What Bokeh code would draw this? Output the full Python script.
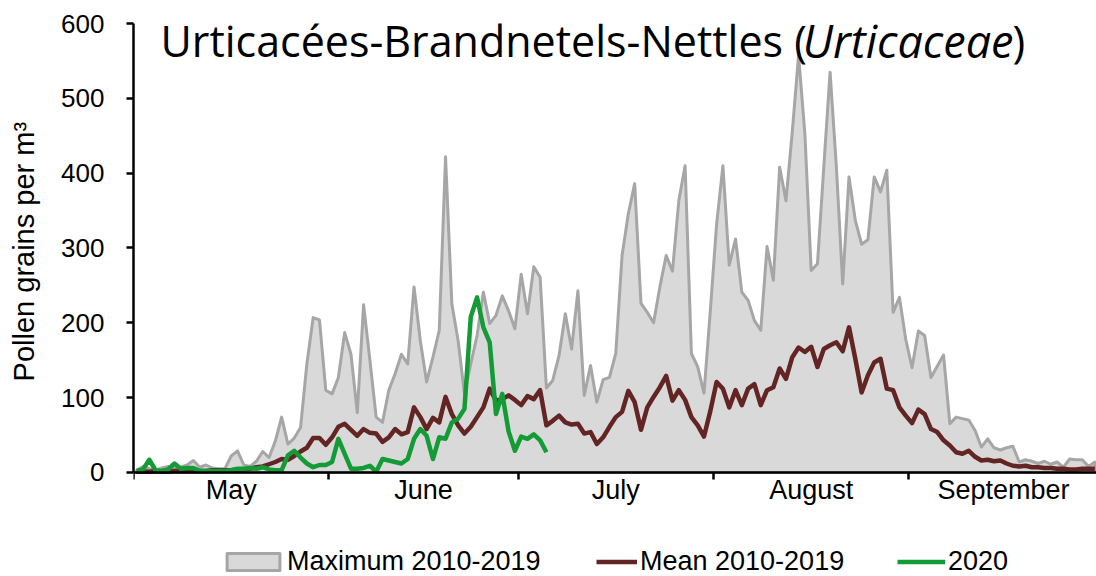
from bokeh.plotting import figure
from bokeh.models import (Range1d, FixedTicker, CustomJSTickFormatter, Label,
                          Legend, LegendItem)
from bokeh.embed import file_html
from bokeh.resources import INLINE

# ---- data -------------------------------------------------------------
months = ["May", "June", "July", "August", "September"]
month_starts = [0, 31, 61, 92, 123, 153]
y_ticks = [0, 100, 200, 300, 400, 500, 600]

max_2010_2019 = [
    # May
    3, 8, 5, 3, 6, 8, 5, 7, 10, 16, 7, 10, 6, 5, 5, 22, 29, 10, 8, 15,
    28, 20, 42, 74, 38, 46, 60, 145, 207, 204, 110,
    # June
    105, 127, 187, 158, 80, 224, 150, 74, 67, 110, 132, 158, 145, 248, 176,
    121, 154, 190, 422, 225, 176, 105, 145, 183, 241, 199, 210, 236, 216, 192,
    # July
    265, 212, 275, 261, 113, 123, 156, 212, 165, 243, 103, 143, 94, 124, 127,
    159, 290, 346, 386, 226, 214, 200, 248, 290, 269, 363, 410, 159, 141, 106, 216,
    # August
    332, 410, 277, 312, 241, 230, 203, 190, 302, 257, 408, 363, 455, 557, 453,
    270, 279, 408, 535, 408, 252, 395, 337, 305, 311, 395, 375, 404, 214, 234, 178,
    # September
    140, 189, 183, 127, 142, 157, 65, 74, 72, 70, 56, 34, 45, 33, 30,
    33, 35, 14, 17, 15, 12, 15, 11, 14, 7, 18, 17, 17, 8, 14,
]

mean_2010_2019 = [
    # May
    1, 1, 1, 2, 1, 1, 2, 2, 2, 2, 2, 2, 3, 3, 3, 3, 4, 4, 5, 7,
    8, 11, 14, 18, 17, 22, 28, 33, 46, 46, 37,
    # June
    47, 61, 65, 57, 49, 58, 53, 52, 41, 47, 58, 51, 54, 87, 74,
    58, 73, 67, 101, 78, 63, 52, 61, 74, 87, 112, 96, 98, 103, 97,
    # July
    90, 102, 98, 110, 63, 69, 76, 67, 64, 65, 52, 54, 38, 47, 61,
    74, 81, 109, 94, 57, 87, 101, 114, 129, 96, 110, 97, 74, 63, 48, 82,
    # August
    121, 112, 87, 110, 90, 112, 118, 90, 110, 114, 139, 125, 154, 167, 161,
    168, 141, 165, 170, 174, 162, 194, 152, 107, 130, 147, 152, 112, 110, 87, 76,
    # September
    66, 84, 78, 58, 54, 43, 36, 27, 25, 29, 21, 16, 17, 15, 16,
    12, 9, 8, 9, 7, 7, 6, 6, 5, 5, 4, 4, 5, 5, 5,
]

y2020 = [
    # May
    2, 4, 17, 3, 2, 4, 12, 5, 6, 6, 2, 2, 2, 2, 2, 3, 5, 5, 6, 5,
    7, 4, 3, 3, 23, 29, 20, 12, 7, 10, 10,
    # June
    14, 45, 25, 5, 5, 6, 9, 1, 18, 16, 14, 12, 18, 45, 58,
    49, 18, 47, 45, 67, 72, 85, 208, 234, 194, 174, 78, 105, 55, 29,
    # July
    48, 45, 51, 43, 27,
]

# day i is drawn in the middle of its day slot
days = [i + 0.5 for i in range(len(max_2010_2019))]
days_2020 = days[:len(y2020)]

# ---- styles -----------------------------------------------------------
ARIAL = "Liberation Sans"
GRAY_FILL = "#d9d9d9"
GRAY_LINE = "#a6a6a6"
BROWN = "#632523"
GREEN = "#139b36"

W, H = 1096, 576
LEFT, TOP = 133, 23
PX_PER_DAY = 6.304
PX_PER_UNIT = 0.7483
FRAME_W = W - LEFT
FRAME_H = H - TOP
Y_MIN = 600 - FRAME_H / PX_PER_UNIT

p = figure(width=W, height=H,
           x_range=Range1d(0, FRAME_W / PX_PER_DAY), y_range=Range1d(Y_MIN, 600),
           output_backend="svg", toolbar_location=None,
           min_border_left=LEFT, min_border_right=0,
           min_border_top=TOP, min_border_bottom=0)
p.outline_line_color = None
p.xgrid.visible = False
p.ygrid.visible = False
p.background_fill_color = "white"

# maximum as a filled area down to the baseline
area_x = [days[0]] + days + [days[-1]]
area_y = [0] + max_2010_2019 + [0]
r_max = p.patch(area_x, area_y, fill_color=GRAY_FILL, line_color=GRAY_LINE,
                line_width=3, line_join="round")
r_mean = p.line(days, mean_2010_2019, line_color=BROWN, line_width=4.5,
                line_join="round")
r_2020 = p.line(days_2020, y2020, line_color=GREEN, line_width=4.5,
                line_join="round")

# ---- axes -------------------------------------------------------------
centers = [(a + b) / 2 for a, b in zip(month_starts[:-1], month_starts[1:])]
xa = p.xaxis[0]
xa.fixed_location = 0
xa.ticker = FixedTicker(ticks=centers, minor_ticks=month_starts)
xa.formatter = CustomJSTickFormatter(args=dict(names=months, centers=centers),
                                     code="const i = centers.indexOf(tick); return i >= 0 ? names[i] : '';")
xa.axis_line_color = "black"
xa.axis_line_width = 2.5
xa.major_tick_out = 0
xa.major_tick_in = 0
xa.minor_tick_out = 7
xa.minor_tick_in = 0
xa.minor_tick_line_color = "black"
xa.minor_tick_line_width = 2.5
xa.major_label_standoff = -4
xa.major_label_text_font = ARIAL
xa.major_label_text_font_size = "27px"
xa.major_label_text_color = "black"

ya = p.yaxis[0]
ya.bounds = (0, 600)
ya.ticker = FixedTicker(ticks=y_ticks)
ya.axis_line_color = "black"
ya.axis_line_width = 2.5
ya.major_tick_out = 7
ya.major_tick_in = 0
ya.major_tick_line_color = "black"
ya.major_tick_line_width = 2.5
ya.minor_tick_out = 0
ya.minor_tick_in = 0
ya.major_label_standoff = 22
ya.major_label_text_font = ARIAL
ya.major_label_text_font_size = "26px"
ya.major_label_text_color = "black"
# the label is centred on the whole frame; leading no-break spaces lift it
# so that it sits centred on the 0-600 part of the axis
ya.axis_label = "\u00a0" * 12 + "Pollen grains per m³"
ya.axis_label_text_font = ARIAL
ya.axis_label_text_font_size = "29px"
ya.axis_label_text_font_style = "normal"
ya.axis_label_text_color = "black"
ya.axis_label_standoff = 18

# ---- title (mixed upright / italic) -------------------------------------
TITLE_FONT = "Open Sans"
for txt, xs, style, size in [("Urticacées-Brandnetels-Nettles (", 27, "normal", "43px"),
                             ("Urticaceae", 669, "italic", "45px"),
                             (")", 879, "normal", "43px")]:
    p.add_layout(Label(x=xs, y=536, x_units="screen", y_units="screen",
                       text=txt, text_font=TITLE_FONT, text_font_size=size,
                       text_font_style=style, text_color="black",
                       text_align="left", text_baseline="alphabetic"))

# ---- legends ------------------------------------------------------------
def make_legend(label, renderer, x, gw, gh, standoff):
    return Legend(items=[LegendItem(label=label, renderers=[renderer])],
                  location=(x, -1), orientation="horizontal",
                  glyph_width=gw, glyph_height=gh, label_standoff=standoff,
                  padding=0, margin=0, spacing=0,
                  border_line_color=None, background_fill_alpha=0,
                  label_text_font=ARIAL, label_text_font_size="27px",
                  label_text_color="black")

p.add_layout(make_legend("Maximum 2010-2019", r_max, 87, 66, 21, 1), "center")
p.add_layout(make_legend("Mean 2010-2019", r_mean, 463, 41, 21, 3), "center")
p.add_layout(make_legend("2020", r_2020, 764, 48, 21, 3), "center")

open("out.html", "w").write(file_html(p, INLINE))
